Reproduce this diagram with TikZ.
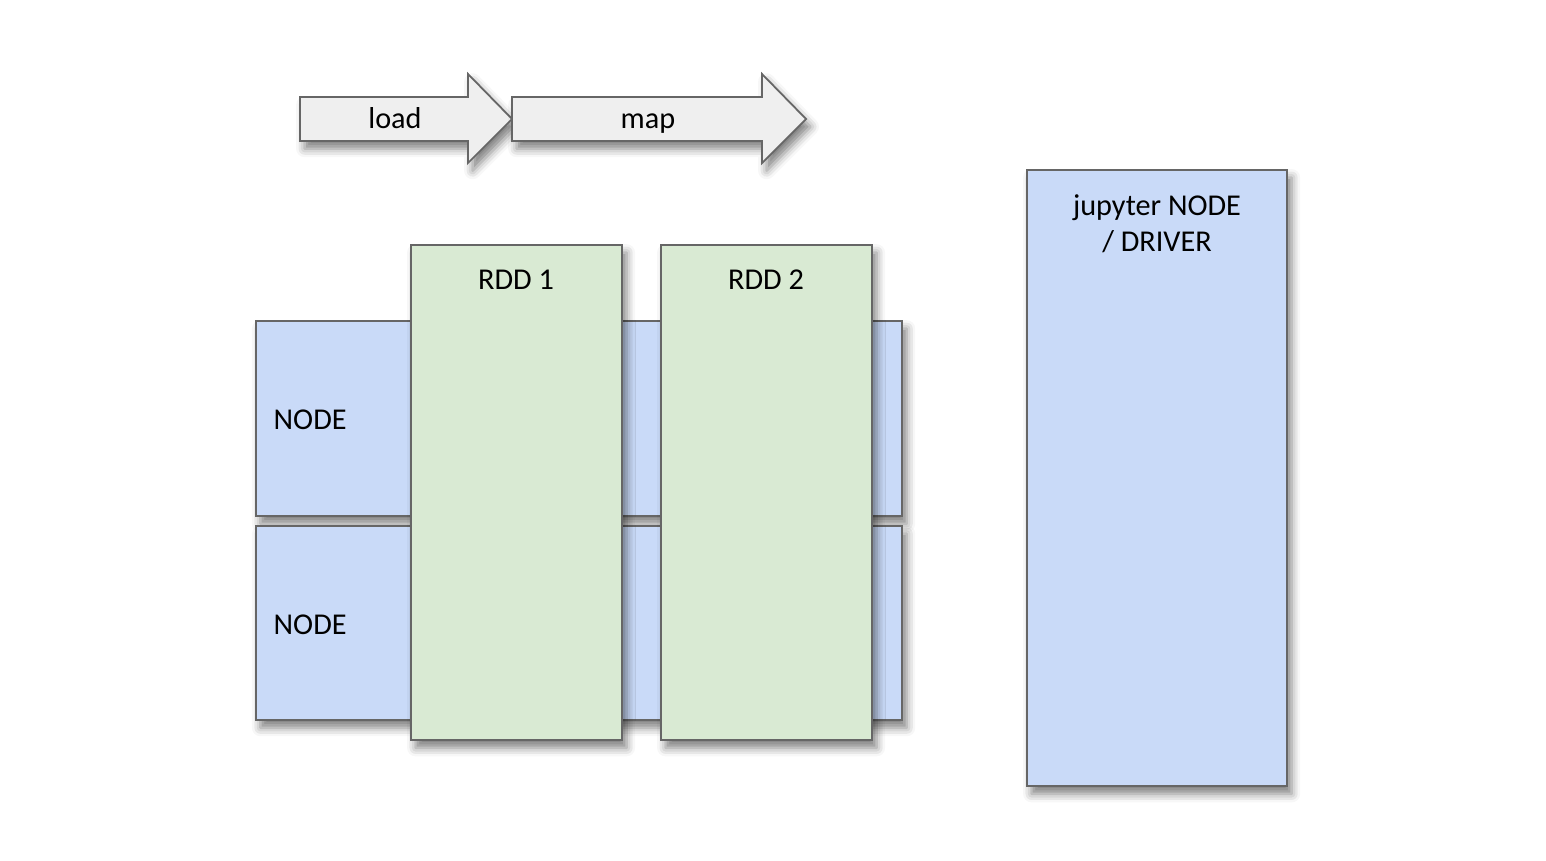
\documentclass[tikz,border=0pt]{standalone}
\usepackage{fontspec}
\setmainfont{Carlito}
\usetikzlibrary{shadows.blur}
\definecolor{nodeblue}{HTML}{C9DAF8}
\definecolor{rddgreen}{HTML}{D9EAD3}
\definecolor{arrowgray}{HTML}{EFEFEF}
\definecolor{edgegray}{HTML}{666666}
\tikzset{
  shape box/.style={draw=edgegray, line width=0.5pt, blur shadow={shadow xshift=1.3pt, shadow yshift=-2.2pt, shadow blur radius=2.4pt, shadow opacity=50}},
  box text/.style={font=\fontsize{8.6}{10.2}\selectfont, inner sep=0pt}
}
\begin{document}
\begin{tikzpicture}[x=0.01cm, y=-0.01cm]
			\useasboundingbox (0,0) rectangle (1546,861);
			\draw[shape box, fill=arrowgray] (300,97)--(468,97)--(468,74)--(512,119)--(468,163)--(468,141)--(300,141)--cycle;
			\draw[shape box, fill=arrowgray] (512,97)--(762,97)--(762,74)--(806,119)--(762,163)--(762,141)--(512,141)--cycle;
			\node[box text, anchor=base] (load) at (395,129) {load};
			\node[box text, anchor=base] (map) at (648,129) {map};
			\node[shape box, fill=nodeblue, minimum width=6.46cm, minimum height=1.95cm] (node1) at (579,418.5) {};
			\node[shape box, fill=nodeblue, minimum width=6.46cm, minimum height=1.94cm] (node2) at (579,623) {};
			\node[shape box, fill=rddgreen, minimum width=2.11cm, minimum height=4.95cm] (rdd1) at (516.5,492.5) {};
			\node[shape box, fill=rddgreen, minimum width=2.11cm, minimum height=4.95cm] (rdd2) at (766.5,492.5) {};
			\node[shape box, fill=nodeblue, minimum width=2.60cm, minimum height=6.16cm] (driver) at (1157,478) {};
			\node[box text, anchor=west] (node1 text) at (273,420) {NODE};
			\node[box text, anchor=west] (node2 text) at (273,625) {NODE};
			\node[box text] (rdd1 text) at (516,280) {RDD 1};
			\node[box text] (rdd2 text) at (766,280) {RDD 2};
			\node[box text, align=center] (driver text) at (1157,224) {jupyter NODE\\/ DRIVER};
		\end{tikzpicture}
\end{document}
